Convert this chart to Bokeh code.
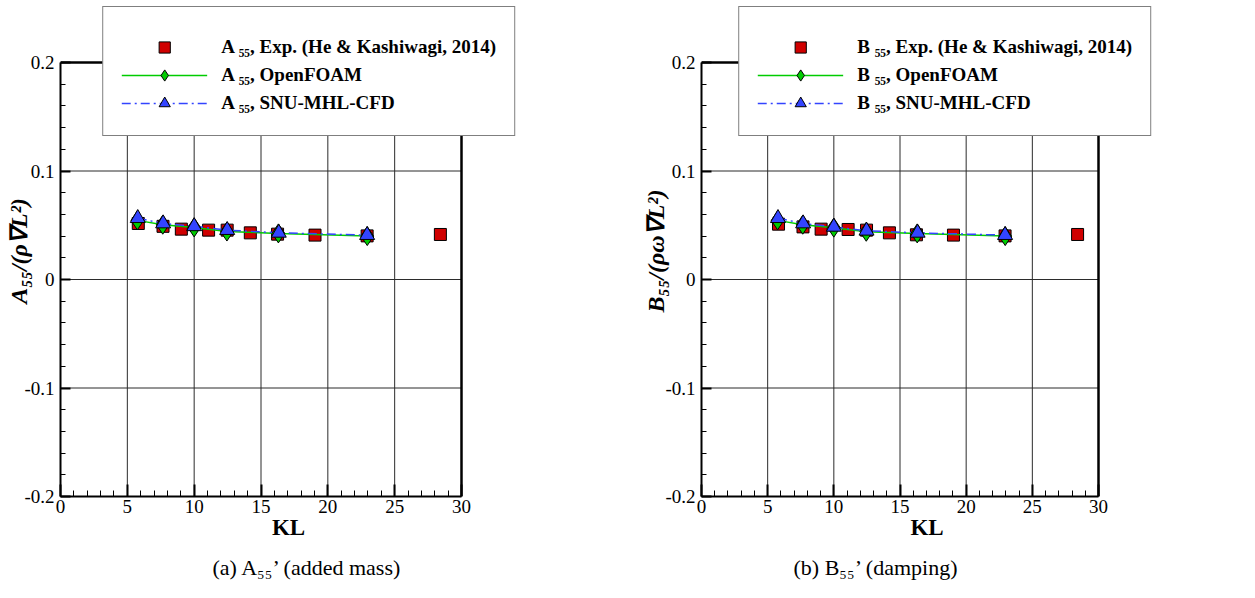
from bokeh.plotting import figure
from bokeh.models import (Range1d, FixedTicker, CustomJSTickFormatter,
                          Legend, LegendItem, Title)
from bokeh.layouts import row
from bokeh.embed import file_html
from bokeh.resources import INLINE

FONT = "Liberation Serif"

# ---------------- data ----------------
exp_kl = [5.82, 7.67, 9.04, 11.08, 12.47, 14.2, 16.24, 19.04, 22.94, 28.42]
a55_exp = [0.0516, 0.0490, 0.0464, 0.0455, 0.0455, 0.0430, 0.0418, 0.0409, 0.0402, 0.0415]
b55_exp = [0.0510, 0.0485, 0.0464, 0.0461, 0.0455, 0.0430, 0.0412, 0.0409, 0.0402, 0.0415]

of_kl = [5.75, 7.65, 10.0, 12.45, 16.3, 22.95]
a55_of = [0.0545, 0.0505, 0.0480, 0.0442, 0.0425, 0.0400]
b55_of = [0.0545, 0.0505, 0.0478, 0.0440, 0.0425, 0.0400]

snu_kl = [5.78, 7.68, 10.0, 12.47, 16.33, 22.94]
a55_snu = [0.0565, 0.0516, 0.0490, 0.0455, 0.0430, 0.0409]
b55_snu = [0.0565, 0.0516, 0.0485, 0.0449, 0.0430, 0.0409]

x_ticks = [0, 5, 10, 15, 20, 25, 30]
x_minor = [v for v in range(0, 31) if v % 5 != 0]
y_ticks = [-0.2, -0.1, 0.0, 0.1, 0.2]
y_minor = [round(-0.2 + 0.02 * i, 2) for i in range(21) if i % 5 != 0]
X_MIN, X_MAX = 0, 30
Y_MIN, Y_MAX = -0.2, 0.2

RED = "#d00000"
GREEN = "#00cc00"
BLUE = "#3344ff"

# layout (pixels)
FIG_H = 598
TOP = 5            # frame top (legend box sits at the frame's top-right)
DATA_TOP = 57      # pixels from frame top down to y = 0.2
DATA_H = 434       # pixels for y in [-0.2, 0.2]
DATA_W = {"A": 401, "B": 397}


def make_panel(sym, exp_y, of_y, snu_y, ylabel, caption, width,
               min_left, frame_w, ylabel_standoff, cap_offset):
    frame_h = DATA_TOP + DATA_H
    data_w = DATA_W[sym]
    x_hi = X_MIN + (X_MAX - X_MIN) * frame_w / data_w
    y_hi = Y_MIN + (Y_MAX - Y_MIN) * frame_h / DATA_H
    p = figure(width=width, height=FIG_H, output_backend="svg",
               toolbar_location=None,
               x_range=Range1d(X_MIN, x_hi), y_range=Range1d(Y_MIN, y_hi),
               min_border_left=min_left, min_border_right=width - min_left - frame_w,
               min_border_top=TOP, min_border_bottom=FIG_H - TOP - frame_h)
    p.background_fill_color = "white"
    p.border_fill_color = "white"
    p.outline_line_color = None
    p.grid.visible = False

    p.xaxis.ticker = FixedTicker(ticks=x_ticks, minor_ticks=x_minor)
    p.yaxis.ticker = FixedTicker(ticks=y_ticks, minor_ticks=y_minor)
    p.yaxis.formatter = CustomJSTickFormatter(code="return Number(tick.toFixed(2)).toString();")
    p.xaxis.bounds = (X_MIN, X_MAX)
    p.yaxis.bounds = (Y_MIN, Y_MAX)

    for ax in (p.xaxis[0], p.yaxis[0]):
        ax.axis_line_width = 2
        ax.axis_line_color = "black"
        ax.major_tick_out = 0
        ax.minor_tick_out = 0
        ax.major_tick_line_width = 2
        ax.minor_tick_line_width = 1
        ax.major_label_text_font = FONT
        ax.major_label_text_font_size = "19px"
        ax.major_label_text_color = "black"
        ax.axis_label_text_font = FONT
        ax.axis_label_text_color = "black"
    p.xaxis.major_tick_in = 12
    p.xaxis.minor_tick_in = 6
    p.yaxis.major_tick_in = 10
    p.yaxis.minor_tick_in = 5
    p.xaxis.major_label_standoff = 3
    p.yaxis.major_label_standoff = 6
    p.xaxis.axis_label = "KL"
    p.xaxis.axis_label_text_font_style = "bold"
    p.xaxis.axis_label_text_font_size = "23px"
    p.xaxis.axis_label_standoff = -1
    p.yaxis.axis_label = ylabel
    p.yaxis.axis_label_text_font_style = "bold italic"
    p.yaxis.axis_label_text_font_size = "24px"
    p.yaxis.axis_label_standoff = ylabel_standoff

    # grid lines (at the major ticks) and the right/top frame sides
    p.segment(x0=x_ticks, y0=[Y_MIN] * len(x_ticks), x1=x_ticks, y1=[Y_MAX] * len(x_ticks),
              line_color="#2b2b2b", line_width=1)
    p.segment(x0=[X_MIN] * len(y_ticks), y0=y_ticks, x1=[X_MAX] * len(y_ticks), y1=y_ticks,
              line_color="#2b2b2b", line_width=1)
    p.segment(x0=[X_MAX, X_MIN], y0=[Y_MIN, Y_MAX], x1=[X_MAX, X_MAX], y1=[Y_MAX, Y_MAX],
              line_color="black", line_width=2.5)

    r_exp = p.scatter(exp_kl, exp_y, marker="square", size=12,
                      fill_color=RED, line_color="black", line_width=1)
    l_of = p.line(of_kl, of_y, line_color=GREEN, line_width=1.5)
    l_snu = p.line(snu_kl, snu_y, line_color=BLUE, line_width=1.5, line_dash="9 4 2 4")
    r_of = p.scatter(of_kl, of_y, marker="diamond", size=19,
                     fill_color=GREEN, line_color="black", line_width=1)
    r_snu = p.scatter(snu_kl, snu_y, marker="triangle", size=15,
                      fill_color=BLUE, line_color="black", line_width=1)

    items = [
        LegendItem(label=f"{sym} \u2085\u2085, Exp. (He & Kashiwagi, 2014)", renderers=[r_exp]),
        LegendItem(label=f"{sym} \u2085\u2085, OpenFOAM", renderers=[l_of, r_of]),
        LegendItem(label=f"{sym} \u2085\u2085, SNU-MHL-CFD", renderers=[l_snu, r_snu]),
    ]
    legend = Legend(items=items, location="top_right", orientation="vertical",
                    title=" ", title_text_font_size="6px", title_standoff=2,
                    border_line_color="black", border_line_width=1.2,
                    background_fill_color="white", background_fill_alpha=1.0,
                    label_text_font=FONT, label_text_font_style="bold",
                    label_text_font_size="19px", label_text_color="black",
                    glyph_width=86, glyph_height=28, label_height=28,
                    label_standoff=14, spacing=0, padding=18, margin=1)
    p.add_layout(legend, "center")

    cap = Title(text=caption, align="left", offset=cap_offset, standoff=20,
                text_font=FONT, text_font_size="22px", text_font_style="normal",
                text_color="black")
    p.add_layout(cap, "below")
    return p


p1 = make_panel("A", a55_exp, a55_of, a55_snu, "A\u2085\u2085/(\u03c1\u2207L\u00b2)",
                "(a) A\u2085\u2085\u2019 (added mass)", 630, 60, 456, -11, 152)
p2 = make_panel("B", b55_exp, b55_of, b55_snu, "B\u2085\u2085/(\u03c1\u03c9\u2207L\u00b2)",
                "(b) B\u2085\u2085\u2019 (damping)", 625, 71, 451, -7, 92)

layout = row(p1, p2)
open("out.html", "w").write(file_html(layout, INLINE))
